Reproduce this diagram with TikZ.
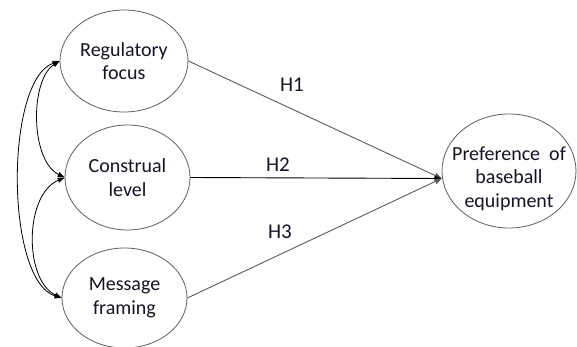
\documentclass[tikz,border=0pt]{standalone}
\usepackage{fontspec}
\setmainfont{Carlito}
\usetikzlibrary{shapes.geometric,arrows.meta}
\definecolor{ellgray}{RGB}{95,95,95}
\definecolor{linegray}{RGB}{90,90,90}
\definecolor{txt}{RGB}{20,20,35}
\begin{document}
\begin{tikzpicture}[x=1pt,y=-1pt,
  var/.style={ellipse, draw=ellgray, line width=0.8pt, inner sep=0pt, align=center,
    font=\fontsize{20}{23.5}\selectfont, text=txt},
  hyp/.style={line width=0.9pt, -{Triangle[length=7pt,width=5.5pt]}},
  corr/.style={line width=0.8pt, {Triangle[length=7pt,width=5pt]}-{Triangle[length=7pt,width=5pt]}},
  hlab/.style={font=\fontsize{21}{24}\selectfont, text=txt, inner sep=0pt}]
\useasboundingbox (0,0) rectangle (577,347);
\fill[white] (0,0) rectangle (577,347);

\node[var, minimum width=128pt, minimum height=102pt] (rf) at (124,61) {Regulatory\\focus};
\node[var, minimum width=125pt, minimum height=105pt] (cl) at (127.5,177.5) {Construal\\level};
\node[var, minimum width=125pt, minimum height=100pt] (mf) at (124.5,298) {Message\\framing};
\node[var, minimum width=134pt, minimum height=114pt] (pb) at (509,171) {};
\node[var, draw=none] (pbt) at (509,178.5) {Preference\ \ of\\baseball\\equipment};

\draw[hyp, draw=linegray] (rf.east) -- (pb.west |- pbt.center);
\draw[hyp, draw=black] (cl.east) -- (pb.west |- pbt.center);
\draw[hyp, draw=linegray] (mf.east) -- (pb.west |- pbt.center);

\node[hlab] (h1) at (292,85) {H1};
\node[hlab] (h2) at (278,165) {H2};
\node[hlab] (h3) at (280,232) {H3};

\draw[corr] (rf.west) .. controls (5,80) and (5,280) .. (mf.west);
\draw[corr] (rf.west) .. controls (30,80) and (30,160) .. (cl.west);
\draw[corr] (cl.west) .. controls (24,195) and (24,280) .. (mf.west);
\end{tikzpicture}
\end{document}
